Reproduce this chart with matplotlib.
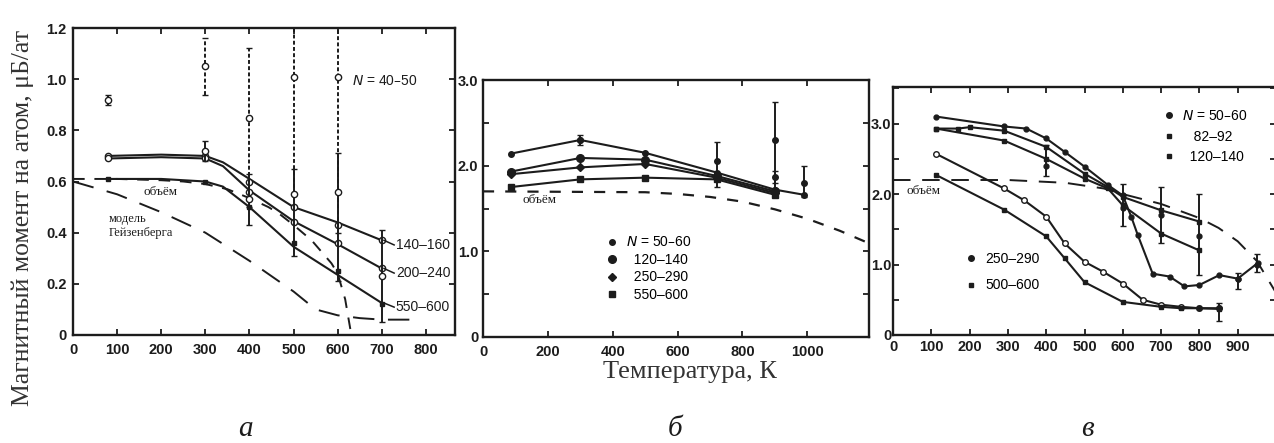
import matplotlib.pyplot as plt
from matplotlib.lines import Line2D

plt.rcParams['font.family'] = ['Liberation Sans', 'DejaVu Sans']
K = '#1c1c1c'
SERIF = ['Liberation Serif', 'DejaVu Serif']

# ---------------- panel a (Ni) ----------------
a_T_fit = [80, 200, 300, 340, 400, 500, 600, 700]
a_fit_140_160 = [0.70, 0.705, 0.70, 0.675, 0.61, 0.50, 0.44, 0.37]
a_fit_200_240 = [0.69, 0.695, 0.69, 0.66, 0.565, 0.445, 0.355, 0.26]
a_fit_550_600 = [0.61, 0.61, 0.60, 0.58, 0.50, 0.345, 0.235, 0.125]

a_T = [80, 300, 400, 500, 600, 700]
a_140_160 = [0.70, 0.70, 0.60, 0.50, 0.43, 0.37]
a_200_240 = [0.69, 0.69, 0.56, 0.44, 0.36, 0.26]
a_550_600 = [0.61, 0.60, 0.50, 0.36, 0.25, 0.12]

a_T_raw = [300, 400, 500, 600, 700]
a_raw = [0.72, 0.53, 0.55, 0.56, 0.23]
a_raw_lo = [0.68, 0.43, 0.31, 0.21, 0.05]
a_raw_hi = [0.76, 0.63, 0.65, 0.71, 0.41]

a_T_40_50 = [80, 300, 400, 500, 600]
a_40_50 = [0.92, 1.05, 0.85, 1.01, 1.01]
a_40_50_lo = [0.90, 0.94, 0.50, 0.55, 0.40]
a_40_50_hi = [0.94, 1.16, 1.12, 1.30, 1.30]

a_T_bulk = [0, 100, 200, 250, 300, 350, 400, 443, 466, 500, 541, 586, 600, 617, 631]
a_bulk = [0.61, 0.61, 0.605, 0.60, 0.59, 0.57, 0.535, 0.50, 0.476, 0.43, 0.37, 0.28, 0.24, 0.14, 0.0]

a_T_heis = [0, 100, 200, 300, 400, 500, 550, 600, 650, 700, 790]
a_heis = [0.60, 0.55, 0.48, 0.40, 0.29, 0.17, 0.10, 0.077, 0.066, 0.06, 0.06]

# ---------------- panel b (Co) ----------------
b_T = [85, 300, 500, 720, 900]
b_T_50_60 = [85, 300, 500, 720, 900, 990]
b_50_60 = [2.14, 2.30, 2.15, 1.92, 1.72, 1.66]
b_120_140 = [1.93, 2.09, 2.07, 1.88, 1.70]
b_250_290 = [1.90, 1.98, 2.02, 1.86, 1.68]
b_550_600 = [1.75, 1.84, 1.86, 1.84, 1.66]

b_T_raw = [300, 720, 900, 900, 990]
b_raw = [2.30, 2.05, 2.30, 1.87, 1.80]
b_raw_lo = [2.24, 1.75, 1.66, 1.80, 1.63]
b_raw_hi = [2.36, 2.28, 2.74, 1.94, 2.00]

b_T_bulk = [0, 500, 600, 700, 800, 900, 1000, 1100, 1180]
b_bulk = [1.70, 1.69, 1.67, 1.635, 1.58, 1.49, 1.38, 1.24, 1.11]

# ---------------- panel c (Fe) ----------------
c_T_50_60 = [113, 290, 348, 400, 448, 500, 561, 600, 622, 639, 678, 722, 761, 800, 852, 900, 952]
c_50_60 = [3.10, 2.96, 2.93, 2.79, 2.60, 2.39, 2.13, 1.98, 1.68, 1.42, 0.87, 0.83, 0.69, 0.71, 0.85, 0.80, 1.02]
c_T_82_92 = [113, 170, 200, 290, 400, 500, 561, 600, 700, 800]
c_82_92 = [2.93, 2.93, 2.95, 2.90, 2.67, 2.29, 2.10, 1.96, 1.77, 1.61]
c_T_120_140 = [113, 290, 400, 500, 561, 600, 700, 800]
c_120_140 = [2.93, 2.76, 2.50, 2.22, 2.08, 1.84, 1.44, 1.20]
c_T_250_290 = [113, 290, 343, 400, 448, 500, 548, 600, 652, 700, 752, 800, 852]
c_250_290 = [2.57, 2.08, 1.91, 1.68, 1.30, 1.04, 0.90, 0.73, 0.50, 0.43, 0.40, 0.38, 0.38]
c_T_500_600 = [113, 290, 400, 448, 500, 600, 700, 752, 800, 852]
c_500_600 = [2.27, 1.78, 1.40, 1.09, 0.75, 0.47, 0.40, 0.38, 0.38, 0.37]

c_T_raw = [400, 600, 700, 800, 850, 900, 950]
c_raw = [2.40, 1.80, 1.70, 1.40, 0.38, 0.80, 1.00]
c_raw_lo = [2.25, 1.55, 1.30, 0.85, 0.20, 0.65, 0.90]
c_raw_hi = [2.70, 2.15, 2.10, 2.00, 0.45, 0.88, 1.15]

c_T_bulk = [0, 300, 450, 550, 600, 700, 800, 850, 900, 950, 1000]
c_bulk = [2.20, 2.20, 2.16, 2.08, 2.00, 1.86, 1.66, 1.52, 1.33, 1.05, 0.60]

W, H = 1274, 443
fig = plt.figure(figsize=(W / 100, H / 100), dpi=100)
ax_a = fig.add_axes([73 / W, (H - 335) / H, (455 - 73) / W, (335 - 28) / H])
ax_b = fig.add_axes([483 / W, (H - 337) / H, (869 - 483) / W, (337 - 80) / H])
ax_c = fig.add_axes([893 / W, (H - 335) / H, (1276 - 893) / W, (335 - 87) / H])


def style(ax, ypad, xpad):
    for s in ax.spines.values():
        s.set_linewidth(1.7)
        s.set_color(K)
    ax.tick_params(direction='in', top=True, right=True, length=4, width=1.3,
                   colors=K, labelsize=10.5)
    ax.tick_params(axis='y', pad=ypad)
    ax.tick_params(axis='x', pad=xpad)
    for lab in ax.get_xticklabels() + ax.get_yticklabels():
        lab.set_fontweight('bold')


def errbars(ax, x, y, lo, hi, ls='-', mfc='white', ms=4.5):
    yerr = [[v - l for v, l in zip(y, lo)], [h - v for v, h in zip(y, hi)]]
    eb = ax.errorbar(x, y, yerr=yerr, fmt='o', ms=ms, mfc=mfc, mec=K, mew=1.0,
                     ecolor=K, elinewidth=1.4, capsize=2.5, capthick=1.2, zorder=4)
    eb[2][0].set_linestyle(ls)
    return eb


lw = 1.5

# ---- panel a ----
ax = ax_a
ax.plot(a_T_bulk, a_bulk, color=K, lw=1.4, dashes=(6, 5))
ax.plot(a_T_heis, a_heis, color=K, lw=1.4, dashes=(11, 7))
ax.plot(a_T_fit, a_fit_140_160, color=K, lw=lw)
ax.plot(a_T_fit, a_fit_200_240, color=K, lw=lw)
ax.plot(a_T_fit, a_fit_550_600, color=K, lw=lw)
ax.plot(a_T, a_140_160, 'o', ms=4.5, mfc='white', mec=K, mew=1.0)
ax.plot(a_T, a_200_240, 'o', ms=4.5, mfc='white', mec=K, mew=1.0)
ax.plot(a_T, a_550_600, 's', ms=3.5, color=K)
errbars(ax, a_T_raw, a_raw, a_raw_lo, a_raw_hi)
errbars(ax, a_T_40_50, a_40_50, a_40_50_lo, a_40_50_hi, ls=(0, (2, 1.2)))
ax.set_xlim(0, 866)
ax.set_ylim(0, 1.2)
ax.set_xticks(range(0, 801, 100))
ax.set_yticks([0, 0.2, 0.4, 0.6, 0.8, 1.0, 1.2])
ax.set_yticklabels(['0', '0.2', '0.4', '0.6', '0.8', '1.0', '1.2'])
style(ax, 4.5, 5.5)
ax.text(633, 0.993, '$N$ = 40–50', fontsize=10, va='center', color=K)
for yv, ylab, lab in [(a_fit_140_160[-1], 0.352, '140–160'),
                      (a_fit_200_240[-1], 0.242, '200–240'),
                      (a_fit_550_600[-1], 0.109, '550–600')]:
    ax.plot([705, 728], [yv, ylab], color=K, lw=1.1)
    ax.text(732, ylab, lab, fontsize=10, va='center', color=K)
ax.text(160, 0.56, 'объём', family=SERIF, fontsize=9.5, va='center', color=K)
ax.text(80, 0.455, 'модель', family=SERIF, fontsize=9, va='center', color=K)
ax.text(80, 0.40, 'Гейзенберга', family=SERIF, fontsize=9, va='center', color=K)

# ---- panel b ----
ax = ax_b
ax.plot(b_T_bulk, b_bulk, color=K, lw=1.6, dashes=(5, 5))
ax.plot(b_T_50_60, b_50_60, '-o', color=K, lw=lw, ms=4)
ax.plot(b_T, b_120_140, '-o', color=K, lw=lw, ms=5.5)
ax.plot(b_T, b_250_290, '-D', color=K, lw=lw, ms=4.5)
ax.plot(b_T, b_550_600, '-s', color=K, lw=lw, ms=4)
errbars(ax, b_T_raw, b_raw, b_raw_lo, b_raw_hi, mfc=K, ms=4)
ax.set_xlim(0, 1190)
ax.set_ylim(0, 3.0)
ax.set_xticks(range(0, 1001, 200))
ax.set_yticks([0, 0.5, 1.0, 1.5, 2.0, 2.5, 3.0])
ax.set_yticklabels(['0', '', '1.0', '', '2.0', '', '3.0'])
style(ax, 3.5, 5.5)
ax.text(122, 1.60, 'объём', family=SERIF, fontsize=9.5, va='center', color=K)
hb = [Line2D([], [], ls='', marker='o', ms=4, color=K),
      Line2D([], [], ls='', marker='o', ms=5.5, color=K),
      Line2D([], [], ls='', marker='D', ms=4.5, color=K),
      Line2D([], [], ls='', marker='s', ms=4, color=K)]
ax.legend(hb, ['$N$ = 50–60', '  120–140', '  250–290', '  550–600'],
          loc='upper left', bbox_to_anchor=(0.32, 0.395), frameon=False,
          fontsize=10, handlelength=0.8, handletextpad=0.6, labelspacing=0.25,
          borderaxespad=0, borderpad=0)

# ---- panel c ----
ax = ax_c
ax.plot(c_T_bulk, c_bulk, color=K, lw=1.4, dashes=(9, 6))
ax.plot(c_T_50_60, c_50_60, '-o', color=K, lw=lw, ms=3.5)
ax.plot(c_T_82_92, c_82_92, '-s', color=K, lw=lw, ms=3.2)
ax.plot(c_T_120_140, c_120_140, '-s', color=K, lw=lw, ms=3.2)
ax.plot(c_T_250_290, c_250_290, '-o', color=K, lw=lw, ms=4, mfc='white', mew=1.0)
ax.plot(c_T_500_600, c_500_600, '-s', color=K, lw=lw, ms=3.2)
errbars(ax, c_T_raw, c_raw, c_raw_lo, c_raw_hi, mfc=K, ms=3.5)
ax.set_xlim(0, 1000)
ax.set_ylim(0, 3.52)
ax.set_xticks(range(0, 1001, 100))
ax.set_xticklabels([str(v) for v in range(0, 901, 100)] + [''])
ax.set_yticks([0, 0.5, 1.0, 1.5, 2.0, 2.5, 3.0, 3.5])
ax.set_yticklabels(['0', '', '1.0', '', '2.0', '', '3.0', ''])
style(ax, 1.0, 3.5)
ax.text(34, 2.05, 'объём', family=SERIF, fontsize=9.5, va='center', color=K)
hc1 = [Line2D([], [], ls='', marker='o', ms=4, color=K),
       Line2D([], [], ls='', marker='s', ms=3.5, color=K),
       Line2D([], [], ls='', marker='s', ms=3.5, color=K)]
leg1 = ax.legend(hc1, ['$N$ = 50–60', '   82–92', '  120–140'],
                 loc='upper left', bbox_to_anchor=(0.705, 0.91), frameon=False,
                 fontsize=10, handlelength=0.8, handletextpad=0.6, labelspacing=0.45,
                 borderaxespad=0, borderpad=0)
ax.add_artist(leg1)
hc2 = [Line2D([], [], ls='', marker='o', ms=4, color=K),
       Line2D([], [], ls='', marker='s', ms=3.5, color=K)]
ax.legend(hc2, ['250–290', '500–600'],
          loc='upper left', bbox_to_anchor=(0.19, 0.335), frameon=False,
          fontsize=10, handlelength=0.8, handletextpad=0.6, labelspacing=0.9,
          borderaxespad=0, borderpad=0)

# ---- figure texts ----
fig.text(23 / W, (H - 218) / H, 'Магнитный момент на атом, μБ/ат', rotation=90,
         family=SERIF, fontsize=18.5, ha='center', va='center', color='#333333')
fig.text(690 / W, (H - 372) / H, 'Температура, К', family=SERIF, fontsize=19,
         ha='center', va='center', color='#333333')
for xp, lt in [(245, 'а'), (675, 'б'), (1087, 'в')]:
    fig.text(xp / W, 1 / H, lt, family=SERIF, style='italic', fontsize=21,
             ha='center', va='bottom', color=K)

fig.savefig('out.png', dpi=100)
